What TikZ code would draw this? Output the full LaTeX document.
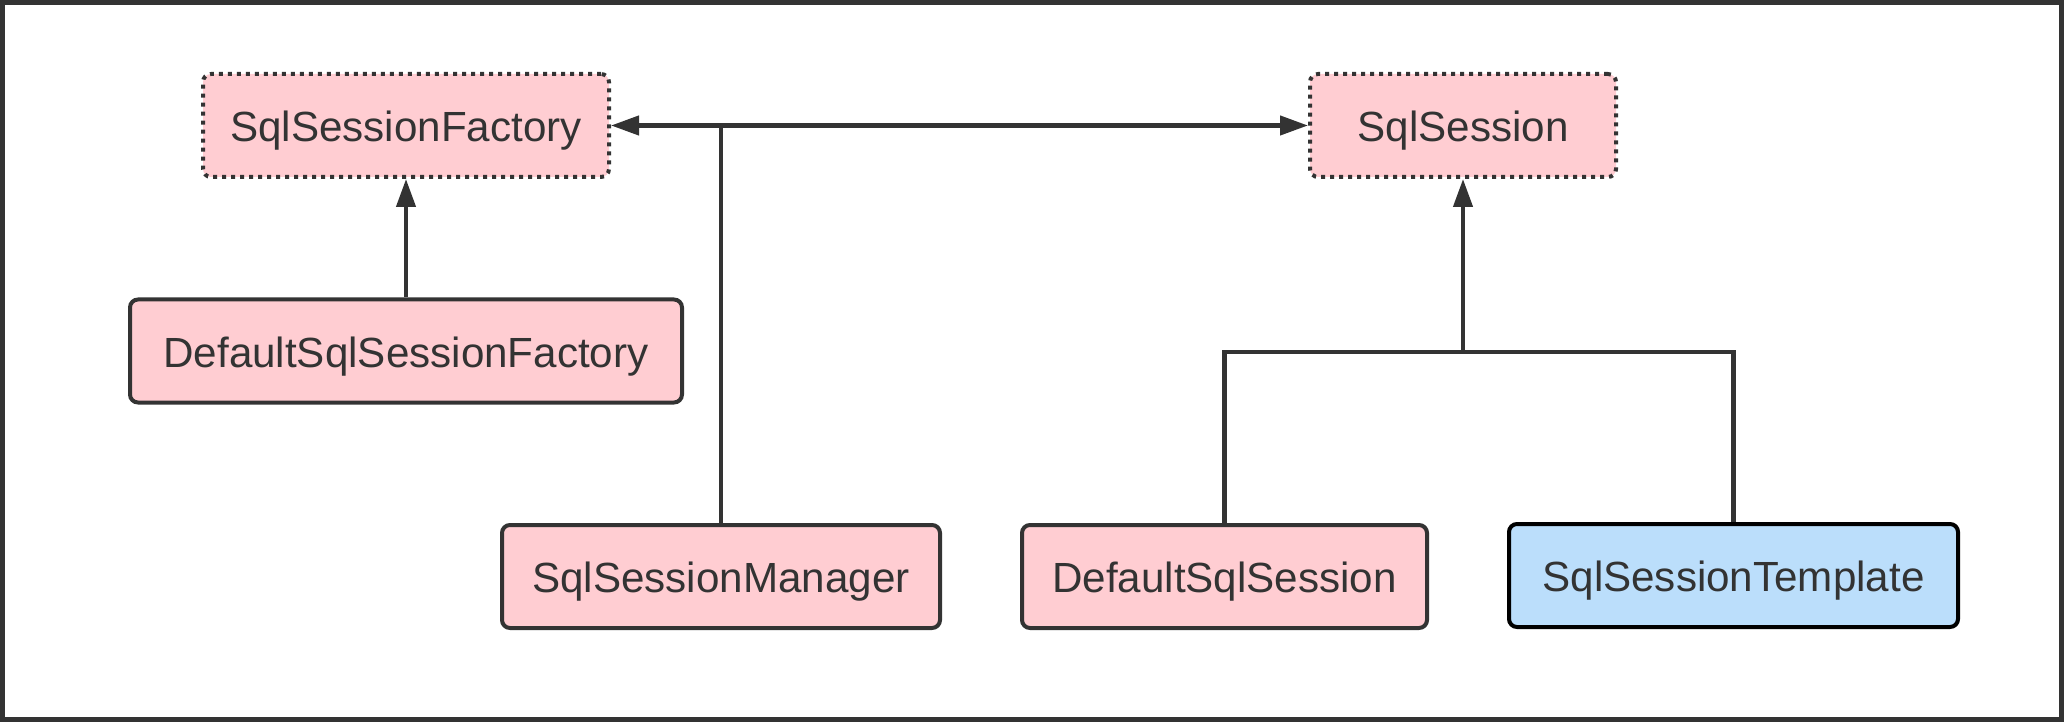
\documentclass[tikz,border=0pt]{standalone}
\usepackage{fontspec}
\setmainfont{Liberation Sans}
\usepackage{xcolor}
\usepackage{tikz}
\usetikzlibrary{arrows.meta}
\definecolor{ink}{HTML}{333333}
\definecolor{rosefill}{HTML}{FFCDD2}
\definecolor{skyfill}{HTML}{BBDEFB}

\begin{document}
\begin{tikzpicture}[x=1cm,y=-1cm,
  cls/.style={draw=ink,line width=0.08cm,rounded corners=0.16cm,fill=rosefill,
    text=ink,inner sep=0pt,minimum height=2.06cm,text height=0.74cm,text depth=0.1cm,
    font=\fontsize{24}{28}\selectfont},
  iface/.style={cls,dash pattern=on 0.08cm off 0.1cm},
  link/.style={draw=ink,line width=0.085cm},
  tip/.style={-{Triangle[length=0.56cm,width=0.38cm]}}]
  \useasboundingbox (0,0) rectangle (41.28,14.44);
  \draw[ink,line width=0.1cm] (0.05,0.05) rectangle (41.23,14.39);
  % interfaces
  \node[iface,minimum width=8.12cm] (fac) at (8.12,2.51) {SqlSessionFactory};
  \node[iface,minimum width=6.12cm] (ses) at (29.26,2.51) {SqlSession};
  % implementations
  \node[cls,minimum width=11.04cm] (dfac) at (8.12,7.02) {DefaultSqlSessionFactory};
  \node[cls,minimum width=8.76cm] (mgr) at (14.42,11.53) {SqlSessionManager};
  \node[cls,minimum width=8.1cm] (dses) at (24.49,11.53) {DefaultSqlSession};
  \node[cls,minimum width=8.98cm,fill=skyfill,draw=black] (tpl) at (34.67,11.51) {SqlSessionTemplate};
  \coordinate (split) at (29.26,7.04);
  \draw[link,tip] (dfac.north) -- (fac.south);
  \draw[link,{Triangle[length=0.56cm,width=0.38cm]}-{Triangle[length=0.56cm,width=0.38cm]}] (fac.east) -- (ses.west);
  \draw[link] (mgr.north) -- (mgr.north |- fac.east);
  \draw[link] (dses.north) |- (split) -| (tpl.north);
  \draw[link,tip] (split) -- (ses.south);
\end{tikzpicture}
\end{document}
